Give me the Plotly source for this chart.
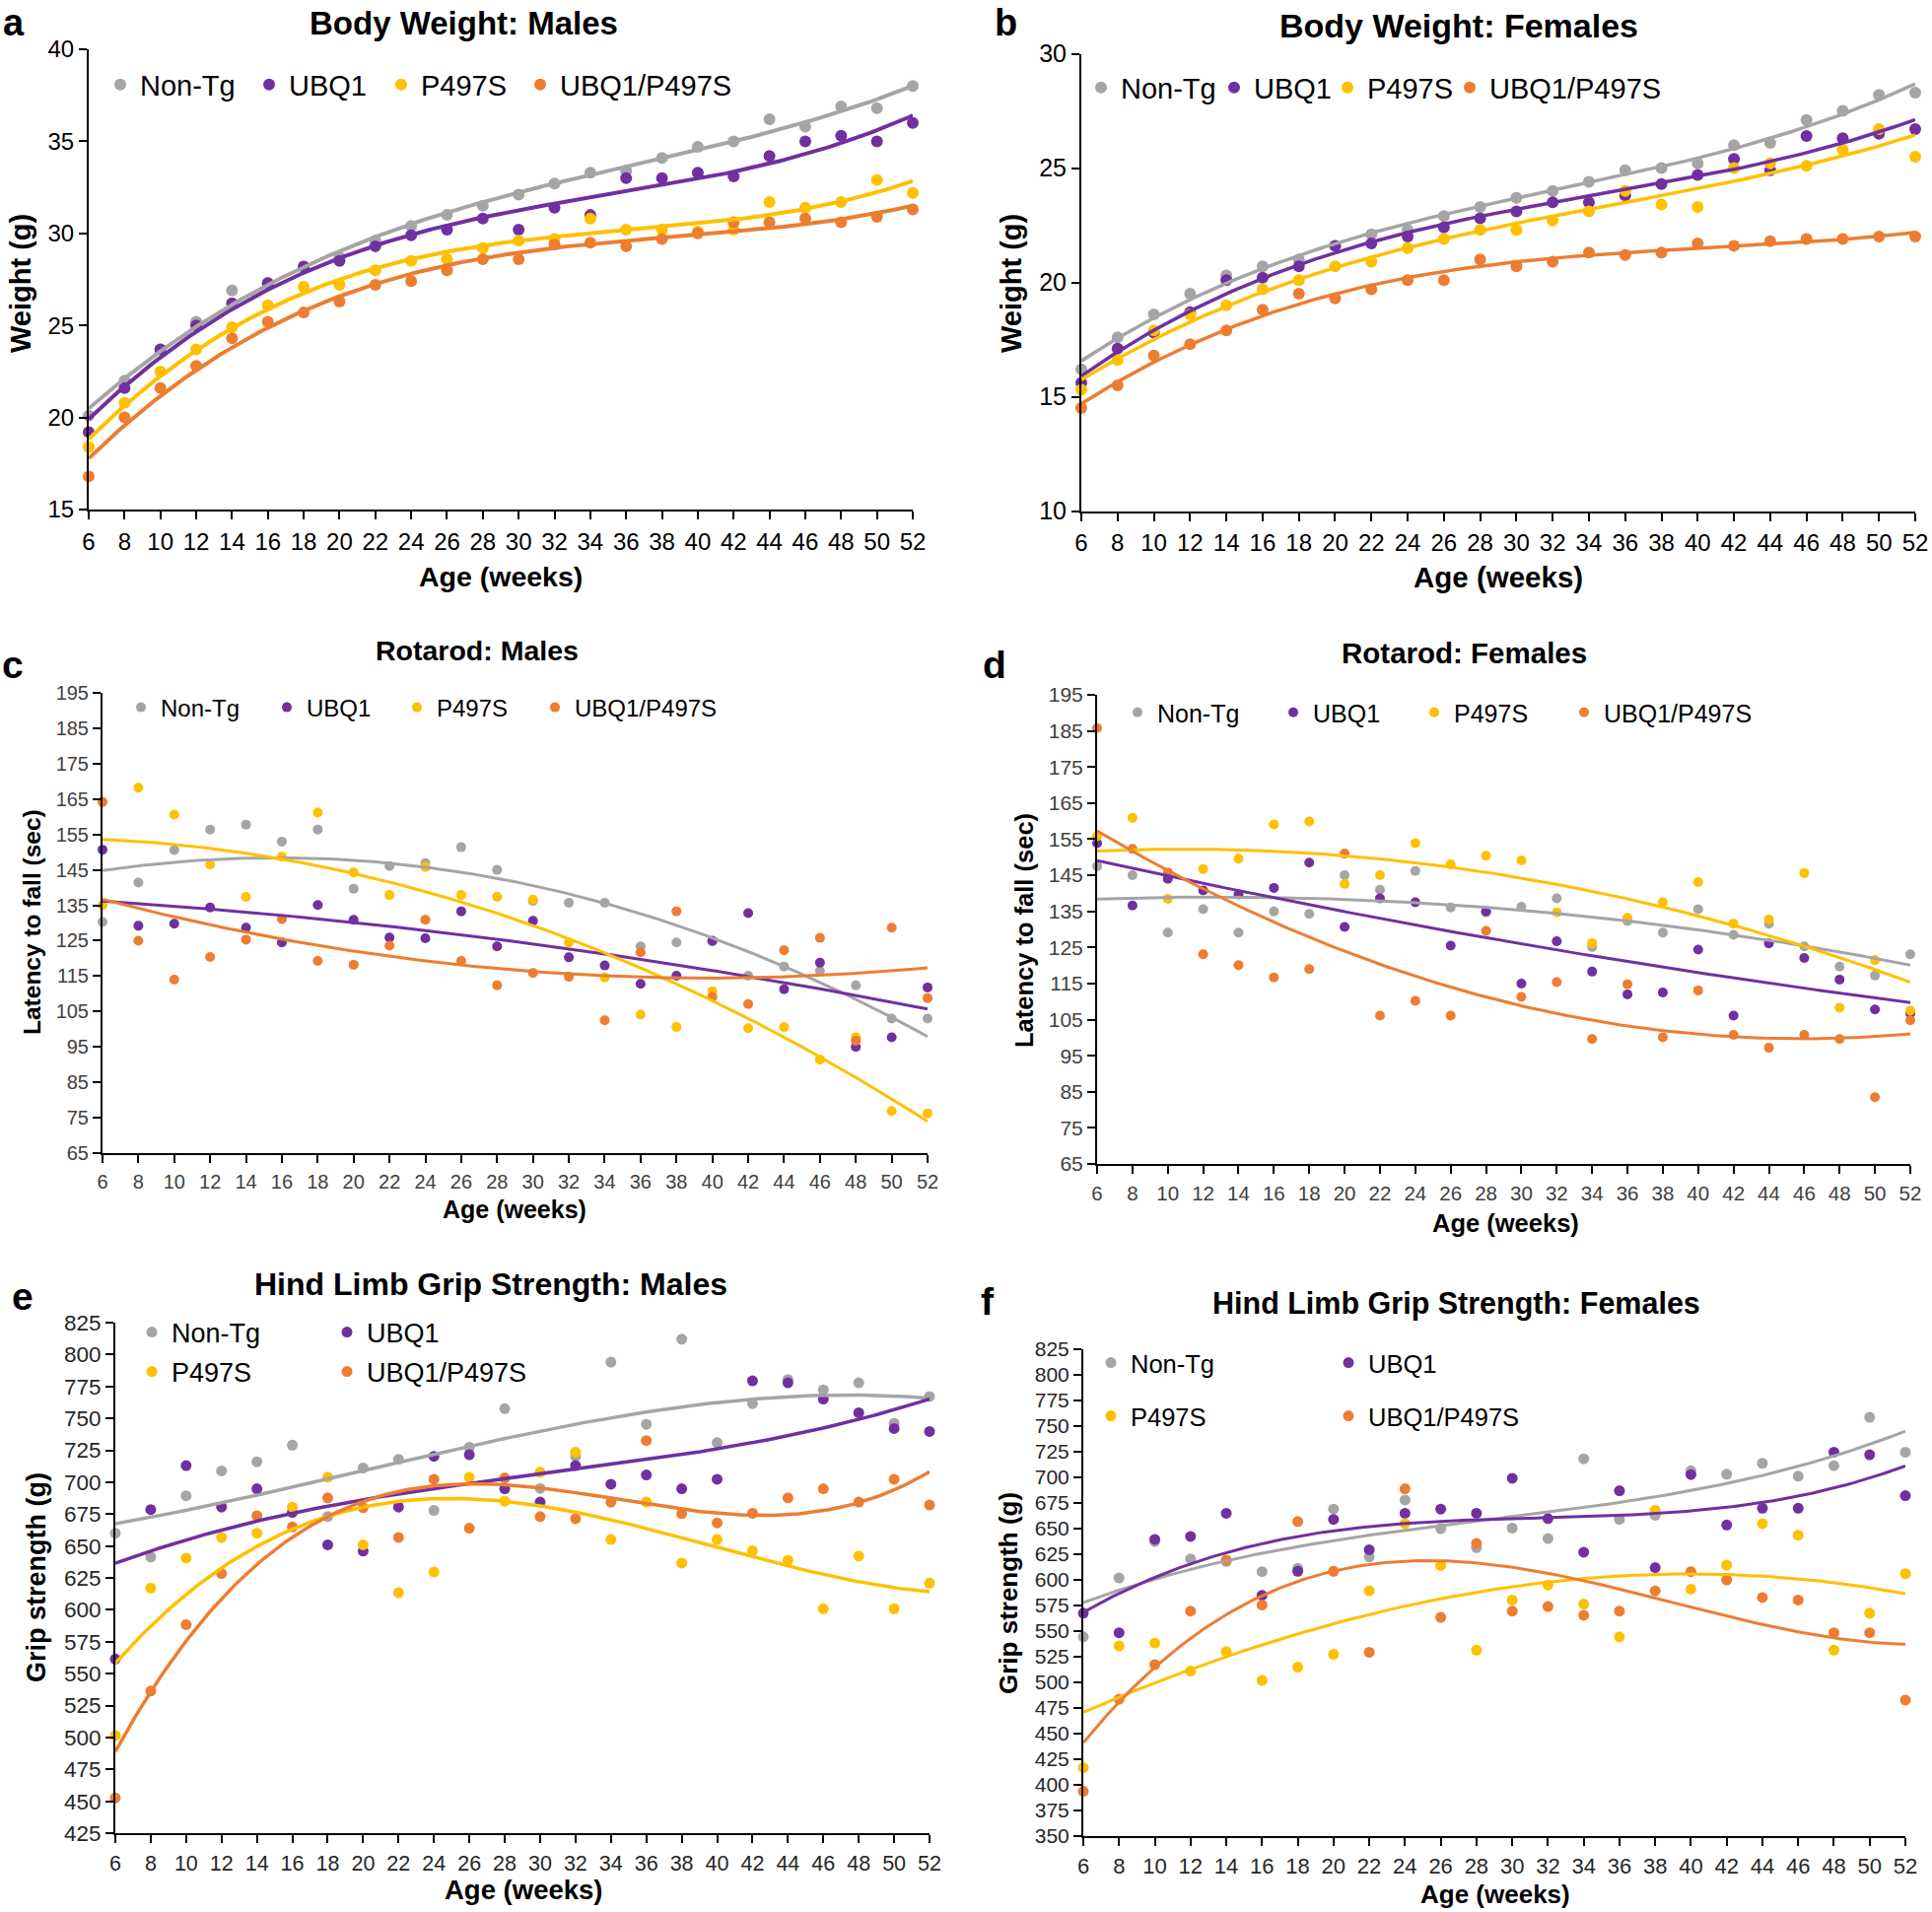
import numpy as np
import plotly.graph_objects as go

W, H = 1960, 1940
weeks = list(range(6, 54, 2))
week_labels = [str(w) for w in weeks]
groups = ["Non-Tg", "UBQ1", "P497S", "UBQ1/P497S"]
colors = ["#A5A5A5", "#7030A0", "#FFC000", "#ED7D31"]

# ---- Panel a: Body weight, males (g)
a_nontg = [20.1, 22.0, 23.7, 25.2, 26.9, 27.3, 28.2, 28.7, 29.6, 30.4, 31.0, 31.5, 32.1, 32.7, 33.3, 33.4, 34.1, 34.7, 35.0, 36.2, 35.8, 36.9, 36.8, 38.0]
a_ubq1 = [19.2, 21.6, 23.7, 25.0, 26.2, 27.3, 28.2, 28.5, 29.3, 29.9, 30.2, 30.8, 30.2, 31.4, 31.0, 33.0, 33.0, 33.3, 33.1, 34.2, 35.0, 35.3, 35.0, 36.0]
a_p497s = [18.4, 20.8, 22.5, 23.7, 24.9, 26.1, 27.1, 27.2, 28.0, 28.5, 28.6, 29.2, 29.6, 29.7, 30.8, 30.2, 30.2, 30.1, 30.2, 31.7, 31.4, 31.7, 32.9, 32.2]
a_dbl = [16.8, 20.0, 21.6, 22.8, 24.3, 25.2, 25.7, 26.3, 27.2, 27.4, 28.0, 28.6, 28.6, 29.4, 29.5, 29.3, 29.7, 30.0, 30.6, 30.6, 30.8, 30.6, 30.9, 31.3]

# ---- Panel b: Body weight, females (g)
b_nontg = [16.2, 17.6, 18.6, 19.5, 20.3, 20.7, 21.0, 21.6, 22.1, 22.3, 22.9, 23.3, 23.7, 24.0, 24.4, 24.9, 25.0, 25.2, 26.0, 26.1, 27.1, 27.5, 28.2, 28.3]
b_ubq1 = [15.6, 17.1, 17.8, 18.7, 20.1, 20.2, 20.7, 21.6, 21.7, 22.0, 22.4, 22.8, 23.1, 23.5, 23.5, 23.8, 24.3, 24.7, 25.4, 24.9, 26.4, 26.3, 26.5, 26.7]
b_p497s = [15.3, 16.6, 17.9, 18.6, 19.0, 19.7, 20.1, 20.7, 20.9, 21.5, 21.9, 22.3, 22.3, 22.7, 23.1, 24.0, 23.4, 23.3, 25.0, 25.2, 25.1, 25.8, 26.7, 25.5]
b_dbl = [14.5, 15.5, 16.8, 17.3, 17.9, 18.8, 19.5, 19.3, 19.7, 20.1, 20.1, 21.0, 20.7, 20.9, 21.3, 21.2, 21.3, 21.7, 21.6, 21.8, 21.9, 21.9, 22.0, 22.0]

# ---- Panel c: Rotarod, males (sec)
c_nontg = [130.3, 141.4, 150.6, 156.4, 157.8, 153.0, 156.4, 139.7, 146.1, 146.9, 151.4, 145.0, 136.2, 135.7, 135.7, 123.4, 124.5, 124.8, 115.1, 117.7, 116.5, 112.4, 103.0, 103.0]
c_ubq1 = [150.7, 129.2, 129.8, 134.4, 128.7, 124.5, 135.1, 130.9, 125.9, 125.7, 133.3, 123.4, 130.6, 120.3, 118.0, 112.8, 115.1, 125.0, 132.8, 111.3, 118.8, 95.0, 97.7, 111.8]
c_p497s = [135.0, 168.2, 160.6, 146.5, 137.4, 148.7, 161.2, 144.3, 137.9, 145.8, 137.9, 137.4, 136.6, 124.5, 114.6, 104.1, 100.6, 110.7, 100.3, 100.6, 91.4, 97.7, 76.9, 76.2]
c_dbl = [164.2, 125.0, 114.0, 120.4, 125.3, 131.1, 119.3, 118.2, 123.6, 130.9, 119.3, 112.4, 115.9, 114.8, 102.5, 121.7, 133.3, 109.1, 107.1, 122.3, 125.8, 96.7, 128.7, 108.8]

# ---- Panel d: Rotarod, females (sec)
d_nontg = [147.5, 145.0, 129.1, 135.6, 129.1, 135.0, 134.3, 145.0, 141.0, 146.2, 136.1, 134.7, 136.3, 138.6, 125.1, 132.3, 129.1, 135.6, 128.5, 131.6, 125.3, 119.7, 117.2, 123.1]
d_ubq1 = [153.9, 136.6, 144.0, 140.8, 139.7, 141.5, 148.5, 130.7, 138.6, 137.5, 125.5, 135.0, 115.0, 126.7, 118.3, 112.0, 112.5, 124.4, 106.1, 126.1, 122.1, 116.1, 107.8, 106.7]
d_p497s = [155.8, 160.9, 138.5, 146.7, 149.6, 159.1, 159.9, 142.6, 145.0, 153.9, 148.0, 150.4, 149.1, 134.7, 126.2, 133.2, 137.5, 143.1, 131.6, 132.7, 145.6, 108.3, 121.5, 107.5]
d_dbl = [185.8, 152.3, 145.8, 123.1, 120.1, 116.7, 119.0, 151.0, 106.1, 110.2, 106.1, 129.6, 111.3, 115.4, 99.6, 114.8, 100.1, 113.1, 100.8, 97.2, 100.8, 99.6, 83.5, 104.8]

# ---- Panel e: Hind limb grip strength, males (g)
e_nontg = [660.0, 641.4, 689.3, 708.8, 716.0, 729.0, 673.0, 711.1, 717.9, 677.9, 727.4, 757.6, 695.1, 720.2, 794.1, 745.3, 812.0, 730.9, 761.5, 780.4, 772.3, 777.8, 746.2, 767.1]
e_ubq1 = [561.4, 678.5, 713.0, 680.5, 694.8, 676.3, 650.9, 646.0, 680.5, 720.2, 721.5, 694.8, 684.4, 713.0, 698.4, 705.6, 694.8, 702.3, 779.4, 777.8, 765.1, 754.4, 742.0, 739.7]
e_p497s = [501.5, 617.0, 640.5, 656.7, 660.0, 680.5, 703.9, 650.9, 613.4, 629.7, 703.9, 685.1, 707.8, 723.5, 655.1, 684.4, 636.6, 655.1, 646.3, 638.8, 600.8, 642.1, 600.8, 620.9]
e_dbl = [452.7, 536.3, 588.4, 628.4, 673.7, 664.9, 687.7, 680.0, 656.7, 702.3, 663.9, 703.3, 673.0, 671.4, 684.4, 732.6, 675.3, 668.1, 675.6, 687.7, 694.8, 684.4, 702.3, 682.1]

# ---- Panel f: Hind limb grip strength, females (g)
f_nontg = [544.4, 601.9, 637.5, 620.5, 618.0, 608.0, 611.2, 669.1, 622.5, 678.0, 650.0, 631.4, 650.5, 640.3, 718.1, 659.0, 663.0, 706.4, 703.1, 713.7, 701.1, 711.4, 758.6, 724.6]
f_ubq1 = [567.5, 548.4, 639.5, 642.4, 665.0, 584.9, 608.4, 659.0, 629.4, 665.0, 669.1, 665.0, 699.1, 659.8, 627.0, 686.9, 612.0, 702.7, 653.5, 669.9, 669.9, 724.6, 722.1, 682.1]
f_p497s = [416.8, 535.5, 538.3, 511.0, 530.0, 501.9, 514.8, 527.4, 589.3, 654.9, 614.0, 531.4, 580.4, 595.0, 576.4, 544.4, 667.9, 590.9, 614.4, 654.9, 643.6, 531.4, 567.5, 606.0]
f_dbl = [393.7, 483.6, 517.3, 569.5, 619.3, 575.6, 656.9, 608.4, 529.4, 688.9, 563.4, 635.5, 569.5, 574.0, 565.4, 569.5, 589.3, 608.0, 600.0, 582.8, 580.4, 548.4, 548.4, 482.8]

FONT = "Liberation Sans, Arial, sans-serif"


def px(x):
    return x / W


def py(y):
    return 1 - y / H


# layout specs (pixel boxes: left, right, top, bottom)
panels = [
    dict(series=[a_nontg, a_ubq1, a_p497s, a_dbl], deg=3, yr=[15, 40], tick0=15, dtick=5,
         box=(90, 926, 50, 517), msize=12, lw=4, ytf=24, xtf=24, tcol="#000000",
         legends=[dict(x=122, y=86, size=29, items=[0, 1, 2, 3], widths=[106, 89, 96, None])]),
    dict(series=[b_nontg, b_ubq1, b_p497s, b_dbl], deg=3, yr=[10, 30], tick0=10, dtick=5,
         box=(1097, 1943, 54.5, 518.5), msize=12, lw=3.5, ytf=25, xtf=24, tcol="#000000",
         legends=[dict(x=1117, y=89, size=29, items=[0, 1, 2, 3], widths=[90, 70, 79, None])]),
    dict(series=[c_nontg, c_ubq1, c_p497s, c_dbl], deg=2, yr=[65, 195], tick0=65, dtick=10,
         box=(104, 941, 703, 1170), msize=10, lw=3, ytf=20, xtf=20, tcol="#404040",
         legends=[dict(x=143, y=718, size=24, items=[0, 1, 2, 3], widths=[103, 87, 95, None])]),
    dict(series=[d_nontg, d_ubq1, d_p497s, d_dbl], deg=2, yr=[65, 195], tick0=65, dtick=10,
         box=(1113, 1938, 705, 1181), msize=10, lw=3, ytf=21, xtf=20.5, tcol="#404040",
         legends=[dict(x=1154, y=723, size=25, items=[0, 1, 2, 3], widths=[113, 98, 107, None])]),
    dict(series=[e_nontg, e_ubq1, e_p497s, e_dbl], deg=3, yr=[425, 825], tick0=425, dtick=25,
         box=(117, 943, 1342, 1860), msize=11, lw=3.5, ytf=22.5, xtf=21.5, tcol="#262626",
         legends=[dict(x=154, y=1352, size=27, items=[0, 1], widths=[153, None]),
                  dict(x=154, y=1392, size=27, items=[2, 3], widths=[153, None])]),
    dict(series=[f_nontg, f_ubq1, f_p497s, f_dbl], deg=3, yr=[350, 825], tick0=350, dtick=25,
         box=(1099, 1933, 1369, 1863), msize=11, lw=3, ytf=21, xtf=22, tcol="#262626",
         legends=[dict(x=1127, y=1383, size=25.5, items=[0, 1], widths=[196, None]),
                  dict(x=1127, y=1437, size=25.5, items=[2, 3], widths=[196, None])]),
]

fig = go.Figure()
layout = dict(width=W, height=H, margin=dict(l=0, r=0, t=0, b=0, autoexpand=False),
              paper_bgcolor="white", plot_bgcolor="white",
              font=dict(family=FONT, color="#000000"), showlegend=True)

legend_count = 0
xs_dense = np.linspace(6, 52, 200)
for i, p in enumerate(panels):
    n = i + 1
    xa = "x" if n == 1 else f"x{n}"
    ya = "y" if n == 1 else f"y{n}"
    l, r, t, b = p["box"]
    layout["xaxis" if n == 1 else f"xaxis{n}"] = dict(
        domain=[px(l), px(r)], range=[6, 52], anchor=ya,
        tickmode="array", tickvals=weeks, ticktext=week_labels,
        showline=True, linecolor="black", linewidth=2, ticks="outside",
        ticklen=8, tickwidth=2, tickcolor="black", showgrid=False, zeroline=False,
        tickfont=dict(size=p["xtf"], color=p["tcol"], family=FONT), ticklabelstandoff=2)
    layout["yaxis" if n == 1 else f"yaxis{n}"] = dict(
        domain=[py(b), py(t)], range=p["yr"], anchor=xa,
        tickmode="linear", tick0=p["tick0"], dtick=p["dtick"],
        showline=True, linecolor="black", linewidth=2, ticks="outside",
        ticklen=8, tickwidth=2, tickcolor="black", showgrid=False, zeroline=False,
        tickfont=dict(size=p["ytf"], color=p["tcol"], family=FONT))

    # legends for this panel
    item_legend = {}
    item_width = {}
    for lg in p["legends"]:
        legend_count += 1
        lname = "legend" if legend_count == 1 else f"legend{legend_count}"
        layout[lname] = dict(x=px(lg["x"] - 20), y=py(lg["y"]), xanchor="left", yanchor="middle",
                             orientation="h", bgcolor="rgba(0,0,0,0)", borderwidth=0,
                             font=dict(size=lg["size"], family=FONT, color="#000000"),
                             traceorder="normal")
        for k, idx in enumerate(lg["items"]):
            item_legend[idx] = lname
            item_width[idx] = lg["widths"][k]

    # markers
    for j, vals in enumerate(p["series"]):
        kw = {}
        if item_width[j] is not None:
            kw["legendwidth"] = item_width[j]
        fig.add_trace(go.Scatter(
            x=weeks, y=vals, mode="markers", name=groups[j], xaxis=xa, yaxis=ya,
            marker=dict(size=p["msize"], color=colors[j]), cliponaxis=False,
            legend=item_legend[j], showlegend=True, **kw))
    # trendlines (polynomial fits of each series)
    for j, vals in enumerate(p["series"]):
        coef = np.polyfit(weeks, vals, p["deg"])
        fig.add_trace(go.Scatter(
            x=xs_dense, y=np.polyval(coef, xs_dense), mode="lines", xaxis=xa, yaxis=ya,
            line=dict(color=colors[j], width=p["lw"]), showlegend=False, hoverinfo="skip"))

annotations = []


def add_text(text, x, y, size, bold=True, angle=0, color="#000000", yanchor="middle"):
    annotations.append(dict(
        text=f"<b>{text}</b>" if bold else text, x=px(x), y=py(y), xref="paper", yref="paper",
        xanchor="center", yanchor=yanchor, showarrow=False, textangle=angle,
        font=dict(size=size, family=FONT, color=color)))


# panel letters (top row anchored at the page top so the text box stays on the page)
add_text("a", 14, 0, 38, yanchor="top")
add_text("b", 1020, 0, 38, yanchor="top")
for letter, x, y in [("c", 13, 674), ("d", 1009, 674), ("e", 23, 1315), ("f", 1002, 1320)]:
    add_text(letter, x, y, 39)

# titles
add_text("Body Weight: Males", 470, 24, 33)
add_text("Body Weight: Females", 1480, 26.5, 34)
add_text("Rotarod: Males", 484, 660, 28.5)
add_text("Rotarod: Females", 1485, 662, 29.5)
add_text("Hind Limb Grip Strength: Males", 498, 1303, 32)
add_text("Hind Limb Grip Strength: Females", 1477, 1322, 30.5)

# axis titles
add_text("Weight (g)", 21, 288, 29, angle=-90)
add_text("Age (weeks)", 508, 585, 28.5)
add_text("Weight (g)", 1026, 288, 29, angle=-90)
add_text("Age (weeks)", 1520, 585, 29.5)
add_text("Latency to fall (sec)", 32, 936, 24.5, angle=-90)
add_text("Age (weeks)", 522, 1227, 25)
add_text("Latency to fall (sec)", 1039, 944, 25.5, angle=-90)
add_text("Age (weeks)", 1527, 1241, 25.5)
add_text("Grip strength (g)", 37, 1601, 27, angle=-90)
add_text("Age (weeks)", 531, 1917, 27.5)
add_text("Grip strength (g)", 1023, 1617, 26, angle=-90)
add_text("Age (weeks)", 1517, 1922, 26)

layout["annotations"] = annotations
fig.update_layout(**layout)
fig.write_html("out.html", config={"displayModeBar": False},
               post_script="document.body.style.margin='0';document.body.style.overflow='hidden';")
